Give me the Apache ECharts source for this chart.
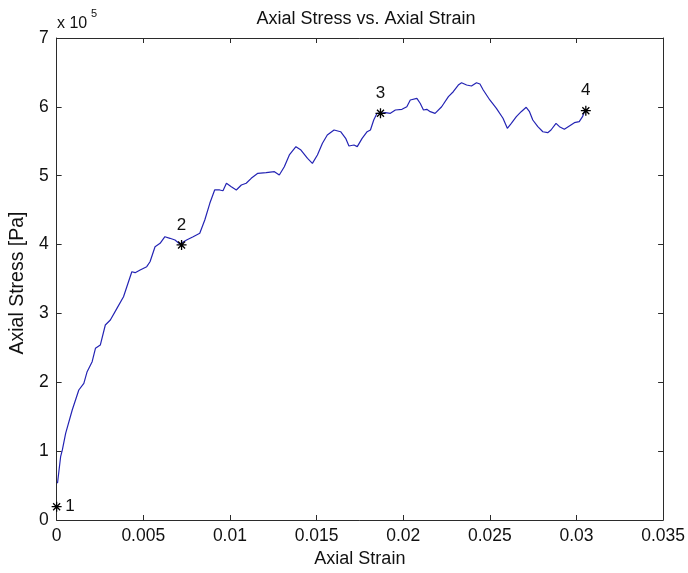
<!DOCTYPE html>
<html>
<head>
<meta charset="utf-8">
<title>Axial Stress vs. Axial Strain</title>
<script src="https://cdn.jsdelivr.net/npm/echarts@6/dist/echarts.min.js"></script>
<style>
  html, body { margin: 0; padding: 0; background: #ffffff; }
  #chart { width: 688px; height: 573px; }
</style>
</head>
<body>
<div id="chart"></div>
<script>
// Measured stress-strain curve (strain [-], stress [Pa])
const strain = [
  0.00005, 0.00023, 0.00033, 0.00052, 0.00090, 0.00128, 0.00157, 0.00176, 0.00205, 0.00224,
  0.00252, 0.00281, 0.00310, 0.00348, 0.00386, 0.00434, 0.00453, 0.00482, 0.00520, 0.00539,
  0.00568, 0.00597, 0.00625, 0.00654, 0.00683, 0.00711, 0.00750, 0.00788, 0.00826, 0.00855,
  0.00884, 0.00912, 0.00941, 0.00960, 0.00980, 0.01008, 0.01037, 0.01066, 0.01094, 0.01123,
  0.01161, 0.01209, 0.01257, 0.01285, 0.01314, 0.01343, 0.01381, 0.01410, 0.01448, 0.01476,
  0.01505, 0.01534, 0.01562, 0.01601, 0.01639, 0.01668, 0.01687, 0.01716, 0.01735, 0.01763,
  0.01792, 0.01811, 0.01830, 0.01849, 0.01869, 0.01897, 0.01926, 0.01955, 0.01993, 0.02021,
  0.02041, 0.02079, 0.02098, 0.02117, 0.02136, 0.02156, 0.02184, 0.02222, 0.02261, 0.02289,
  0.02318, 0.02337, 0.02366, 0.02394, 0.02423, 0.02443, 0.02462, 0.02500, 0.02538, 0.02576,
  0.02601, 0.02624, 0.02653, 0.02681, 0.02710, 0.02729, 0.02748, 0.02777, 0.02806, 0.02834,
  0.02853, 0.02882, 0.02902, 0.02930, 0.02959, 0.02988, 0.03016, 0.03035, 0.03049
];
const stress = [
  53300, 91900, 101700, 125900, 159800, 188800, 198500, 215400, 229900, 249300,
  254100, 283200, 290500, 307400, 324300, 360600, 359200, 363100, 367900, 375100,
  396900, 401800, 411400, 409100, 406600, 400800, 406600, 411400, 416400, 435700,
  459900, 479300, 479300, 478200, 489000, 484100, 479300, 486500, 489000, 496200,
  503500, 504400, 505900, 501000, 513100, 530100, 542200, 537300, 525300, 518000,
  530100, 547100, 559100, 566400, 563900, 554300, 543200, 544600, 542200, 554300,
  563900, 566400, 580900, 590600, 590600, 591500, 590600, 595400, 596400, 600200,
  610000, 612400, 605200, 595400, 596400, 593000, 590600, 600200, 614800, 622000,
  631700, 635100, 631700, 630300, 635100, 633200, 624500, 610000, 597900, 583400,
  568900, 576100, 585700, 593000, 599400, 593000, 580900, 571200, 563900, 562500,
  566400, 576100, 571200, 567400, 572200, 577000, 578500, 585700, 595400
];

// Numbered reference points on the curve
const markerStrain = [0.0, 0.00721, 0.01869, 0.03054];
const markerStress = [19300, 399500, 590600, 594400];
const markerText = ['1', '2', '3', '4'];
const markerLabelSide = ['right', 'top', 'top', 'top'];

const curve = strain.map((s, i) => [s, stress[i]]);
const markers = markerStrain.map((s, i) => ({
  value: [s, markerStress[i]],
  name: markerText[i],
  label: { position: markerLabelSide[i], distance: markerLabelSide[i] === 'right' ? 1 : 4 }
}));

const FONT = 'Liberation Sans, Arial, sans-serif';
const TEXT_COLOR = '#111111';
const AXIS_COLOR = '#2b2b2b';
const asterisk = 'path://M0,5L10,5M5,0L5,10M1.5,1.5L8.5,8.5M8.5,1.5L1.5,8.5';

const tickCommon = { show: true, inside: true, length: 5, lineStyle: { color: AXIS_COLOR, width: 1 } };
const lineCommon = { show: true, onZero: false, lineStyle: { color: AXIS_COLOR, width: 1 } };

const chart = echarts.init(document.getElementById('chart'), null, { renderer: 'canvas' });
chart.setOption({
  backgroundColor: '#ffffff',
  animation: false,
  title: {
    text: 'Axial Stress vs. Axial Strain',
    left: 361,
    top: 5,
    textAlign: 'center',
    textStyle: { fontFamily: FONT, fontSize: 18, fontWeight: 'normal', color: TEXT_COLOR }
  },
  grid: { left: 56, right: 22, top: 38, bottom: 53, containLabel: false },
  xAxis: [
    {
      type: 'value', position: 'bottom', min: 0, max: 0.035, interval: 0.005,
      name: 'Axial Strain', nameLocation: 'middle', nameGap: 28,
      nameTextStyle: { fontFamily: FONT, fontSize: 18, color: TEXT_COLOR },
      axisLine: lineCommon, axisTick: tickCommon, splitLine: { show: false },
      axisLabel: {
        margin: 7, fontFamily: FONT, fontSize: 17.5, color: TEXT_COLOR,
        formatter: v => (v === 0 ? '0' : String(+v.toFixed(3)))
      }
    },
    {
      type: 'value', position: 'top', min: 0, max: 0.035, interval: 0.005,
      axisLine: lineCommon, axisTick: tickCommon, axisLabel: { show: false }, splitLine: { show: false }
    }
  ],
  yAxis: [
    {
      type: 'value', position: 'left', min: 0, max: 700000, interval: 100000,
      name: 'Axial Stress [Pa]', nameLocation: 'middle', nameGap: 28, nameRotate: 90,
      nameTextStyle: { fontFamily: FONT, fontSize: 19.5, color: TEXT_COLOR, padding: [0, 8, 0, 0] },
      axisLine: lineCommon, axisTick: tickCommon, splitLine: { show: false },
      axisLabel: {
        margin: 8, fontFamily: FONT, fontSize: 17.5, color: TEXT_COLOR,
        formatter: v => String(Math.round(v / 100000))
      }
    },
    {
      type: 'value', position: 'right', min: 0, max: 700000, interval: 100000,
      axisLine: lineCommon, axisTick: tickCommon, axisLabel: { show: false }, splitLine: { show: false }
    }
  ],
  graphic: [
    {
      type: 'text', left: 57, top: 16,
      style: { text: 'x 10', fontFamily: FONT, fontSize: 16, fill: TEXT_COLOR }
    },
    {
      type: 'text', left: 91, top: 8,
      style: { text: '5', fontFamily: FONT, fontSize: 11, fill: TEXT_COLOR }
    }
  ],
  series: [
    {
      type: 'line', name: 'stress', xAxisIndex: 0, yAxisIndex: 0,
      data: curve, showSymbol: false, smooth: false,
      lineStyle: { color: '#2424b4', width: 1.2 }
    },
    {
      type: 'scatter', name: 'points', xAxisIndex: 0, yAxisIndex: 0,
      data: markers, symbol: asterisk, symbolSize: 10,
      itemStyle: { color: 'none', borderColor: '#000000', borderWidth: 1.3, opacity: 1 },
      label: {
        show: true, formatter: p => p.name,
        fontFamily: FONT, fontSize: 17, color: TEXT_COLOR, opacity: 1,
        textBorderWidth: 0
      },
      z: 5
    }
  ]
});
</script>
</body>
</html>
